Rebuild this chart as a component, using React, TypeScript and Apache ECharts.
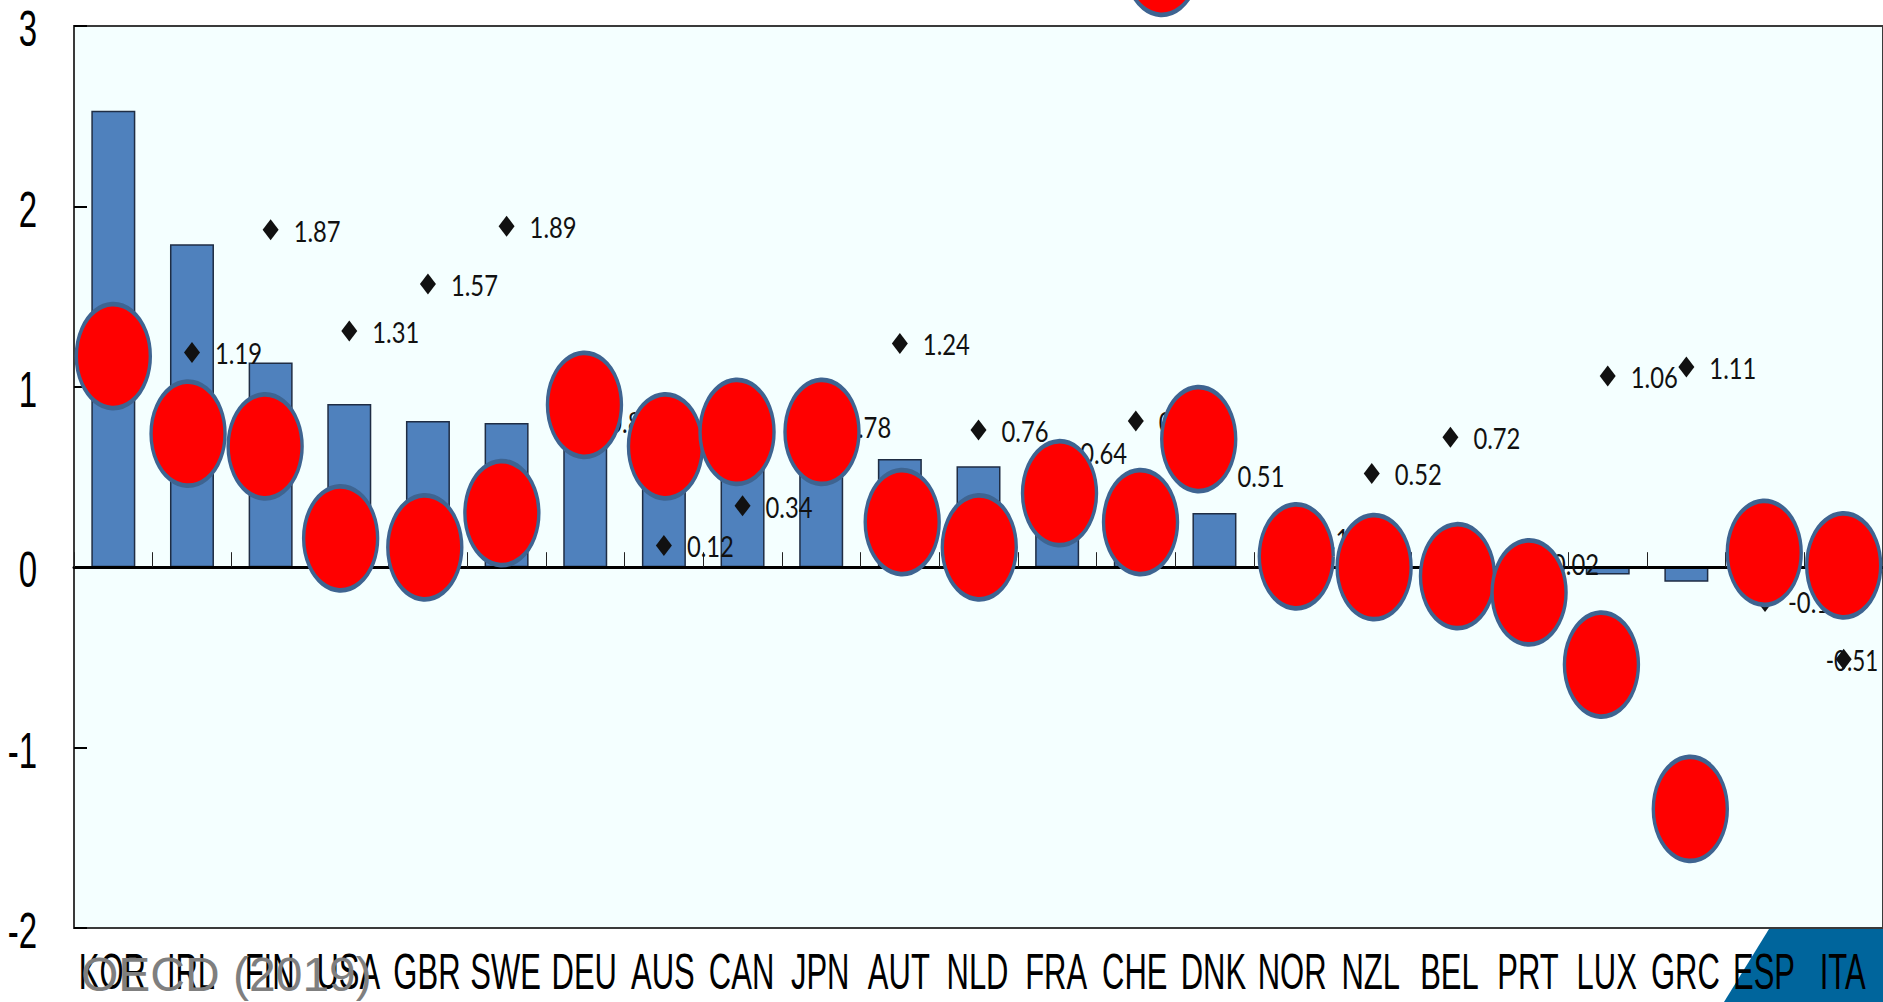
import React, { useEffect, useRef } from "react";
import * as echarts from "echarts";

const categories = ["KOR","IRL","FIN","USA","GBR","SWE","DEU","AUS","CAN","JPN","AUT","NLD","FRA","CHE","DNK","NOR","NZL","BEL","PRT","LUX","GRC","ESP","ITA"];
const barValues = [2.53,1.79,1.135,0.905,0.81,0.8,0.78,0.7,0.68,0.66,0.6,0.56,0.4,0.33,0.3,0.15,0.1,0.05,0.02,-0.04,-0.08,-0.02,-0.04];
const diamondValues = [null,1.19,1.87,1.31,1.57,1.89,0.81,0.12,0.34,0.78,1.24,0.76,0.64,0.81,0.51,0.16,0.52,0.72,0.02,1.06,1.11,-0.19,-0.51];
const ovalPositions = [0,0.95,1.93,2.89,3.96,4.94,5.99,7.02,7.93,9.01,10.03,11.01,12.03,13.06,13.33,13.8,15.04,16.03,17.09,18,18.92,20.05,20.99,22];
const ovalValues = [1.17,0.74,0.67,0.16,0.11,0.3,0.9,0.67,0.75,0.75,0.25,0.11,0.41,0.25,3.35,0.71,0.06,0,-0.05,-0.14,-0.54,-1.34,0.08,0.01];
const yTicks = [-2, -1, 0, 1, 2, 3];
const sourceNote = "OECD (2019)";

const SANS = "'Liberation Sans', Arial, sans-serif";
const LABEL_FONT = "Lato, 'Liberation Sans', sans-serif";

export default function App() {
  const ref = useRef<HTMLDivElement>(null);
  useEffect(() => {
    document.body.style.margin = "0";
    const chart = echarts.init(ref.current!, undefined, { renderer: "svg" });
    const last = categories.length - 1;
    chart.setOption({
      animation: false,
      backgroundColor: "#ffffff",
      grid: { left: 74, right: 0, top: 26, bottom: 74, show: true, backgroundColor: "#f4ffff", borderColor: "#3a3a3a", borderWidth: 2 },
      xAxis: [
        {
          type: "category",
          data: categories,
          z: 3,
          axisLine: { onZero: true, lineStyle: { color: "#000", width: 3 } },
          axisTick: { show: true, inside: true, length: 15, lineStyle: { color: "#222", width: 1 } },
          axisLabel: { show: false },
        },
        { type: "value", min: -0.5, max: last + 0.5, show: false },
      ],
      yAxis: {
        type: "value",
        min: -2,
        max: 3,
        interval: 1,
        splitLine: { show: false },
        axisLine: { show: false, onZero: false },
        axisTick: { show: true, inside: true, length: 13, lineStyle: { color: "#000", width: 2 } },
        axisLabel: { show: false },
      },
      graphic: [
        { type: "polygon", z: 0, shape: { points: [[1769, 929], [1883, 929], [1883, 1002], [1724, 1002]] }, style: { fill: "#00659c" } },
        { type: "text", z: 20, x: 81, y: 950, style: { text: sourceNote, fontFamily: SANS, fontSize: 48, fill: "#7f7f7f" } },
      ],
      series: [
        {
          type: "bar",
          z: 2,
          data: barValues,
          barWidth: 44,
          itemStyle: { color: "#4f81bd", borderColor: "#1f2d44", borderWidth: 1.5 },
        },
        {
          type: "scatter",
          z: 4,
          data: diamondValues.map((v, i) => [i, v]),
          symbol: "diamond",
          symbolSize: [16, 21],
          itemStyle: { color: "#111", opacity: 1 },
        },
        {
          // Value beside each diamond, condensed to the width of the chart's label face
          type: "custom",
          z: 4,
          clip: false,
          silent: true,
          data: diamondValues.map((v, i) => [i, v]).filter((d) => d[1] !== null),
          renderItem: (_params: any, api: any) => {
            const index = api.value(0);
            const value = api.value(1);
            const p = api.coord([index, value]);
            // The last value sits across its marker, against the plot's right edge
            const dx = index === last ? -18 : 23;
            return {
              type: "text",
              x: p[0] + dx,
              y: p[1] + 1,
              scaleX: index === last ? 0.8 : 0.85,
              style: {
                text: String(value),
                fontFamily: LABEL_FONT,
                fontSize: 28,
                fill: "#111",
                align: "left",
                verticalAlign: "middle",
              },
            };
          },
        },
        {
          type: "scatter",
          z: 6,
          xAxisIndex: 1,
          clip: false,
          data: ovalPositions.map((x, i) => [x, ovalValues[i]]),
          symbol: "circle",
          symbolSize: [74, 104],
          itemStyle: { color: "#ff0000", opacity: 1, borderColor: "#3e6491", borderWidth: 4 },
        },
        {
          // Category names, squeezed horizontally below the plot
          type: "custom",
          z: 8,
          clip: false,
          silent: true,
          data: categories.map((c) => [c, -2]),
          renderItem: (params: any, api: any) => {
            const p = api.coord([api.value(0), -2]);
            return {
              type: "text",
              x: p[0] - 1,
              y: p[1] + 44,
              scaleX: 0.62,
              style: {
                text: categories[params.dataIndex],
                fontFamily: SANS,
                fontSize: 50,
                fill: "#000",
                align: "center",
                verticalAlign: "middle",
              },
            };
          },
        },
        {
          // Value-axis numbers, squeezed the same way to the left of the plot
          type: "custom",
          z: 8,
          clip: false,
          silent: true,
          data: yTicks.map((t) => [0, t]),
          renderItem: (_params: any, api: any) => {
            const tick = api.value(1);
            const p = api.coord([0, tick]);
            return {
              type: "text",
              x: 37,
              y: p[1] + 3,
              scaleX: 0.66,
              style: {
                text: String(tick),
                fontFamily: SANS,
                fontSize: 50,
                fill: "#000",
                align: "right",
                verticalAlign: "middle",
              },
            };
          },
        },
      ],
    });
    return () => chart.dispose();
  }, []);
  return <div ref={ref} style={{ position: "absolute", left: 0, top: 0, width: 1883, height: 1002 }} />;
}
